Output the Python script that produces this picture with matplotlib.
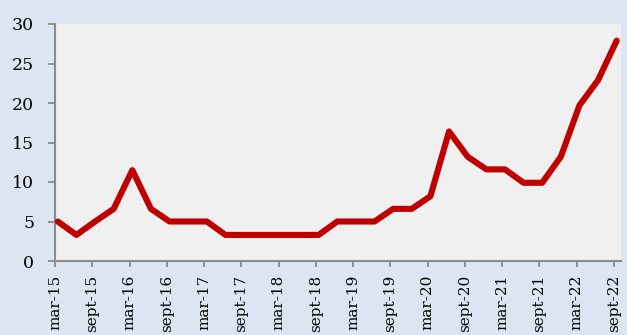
import matplotlib
matplotlib.use("Agg")
import matplotlib.pyplot as plt

# Quarterly series, March 2015 to September 2022
values = [5.0, 3.3, 5.0, 6.6, 11.5, 6.6, 5.0, 5.0,
          5.0, 3.3, 3.3, 3.3, 3.3, 3.3, 3.3, 5.0,
          5.0, 5.0, 6.6, 6.6, 8.2, 16.4, 13.2, 11.6,
          11.6, 9.9, 9.9, 13.2, 19.7, 22.9, 27.9]
tick_labels = ["mar-15", "sept-15", "mar-16", "sept-16", "mar-17", "sept-17",
               "mar-18", "sept-18", "mar-19", "sept-19", "mar-20", "sept-20",
               "mar-21", "sept-21", "mar-22", "sept-22"]
y_ticks = [0, 5, 10, 15, 20, 25, 30]

plt.rcParams["font.family"] = ["DejaVu Serif"]

fig = plt.figure(figsize=(6.27, 3.35), dpi=100)
fig.patch.set_facecolor("#dce6f2")
ax = fig.add_axes([55 / 627, 74 / 335, 566 / 627, 237 / 335])
ax.set_facecolor("#f0f0f0")

x = [i + 0.15 for i in range(len(values))]
ax.plot(x, values, color="#c00000", lw=4.4, solid_capstyle="round",
        solid_joinstyle="round", clip_on=False, zorder=3)

ax.set_xlim(0, 30.38)
ax.set_ylim(0, 30)
ax.set_yticks(y_ticks)
ax.set_xticks(range(0, len(values), 2))
ax.set_xticklabels(tick_labels, rotation=90, va="top", ha="center")

for side in ("top", "right"):
    ax.spines[side].set_visible(False)
for side in ("left", "bottom"):
    ax.spines[side].set_color("#8c8c8c")
    ax.spines[side].set_linewidth(1.5)

ax.tick_params(axis="both", colors="#8c8c8c", width=1.3, labelcolor="black")
ax.tick_params(axis="y", length=5, pad=10, labelsize=12.5)
ax.tick_params(axis="x", length=4, pad=6, labelsize=11)

fig.savefig("out.png", dpi=100, facecolor=fig.get_facecolor())
